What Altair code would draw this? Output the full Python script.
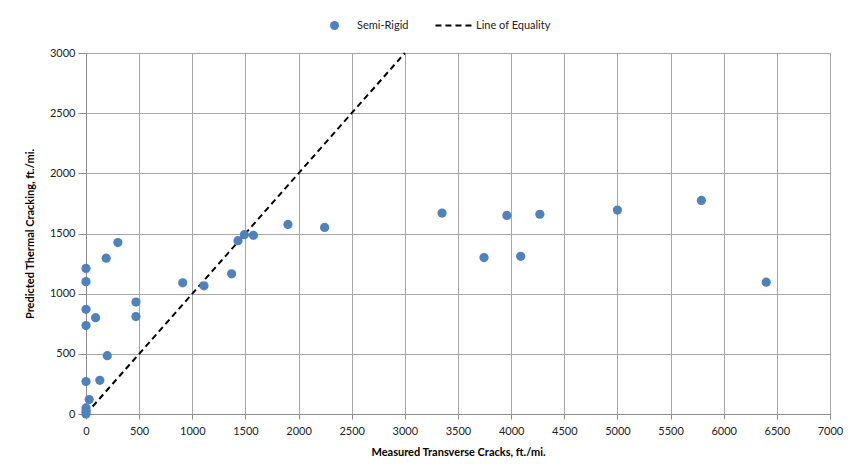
import altair as alt
import pandas as pd

measured = [0, 0, 0, 0, 90, 190, 300, 470, 470, 200, 130, 0, 30, 0, 0, 0,
            910, 1110, 1370, 1430, 1490, 1575, 1900, 2245,
            3350, 3745, 3960, 4090, 4270, 5000, 5790, 6400]
predicted = [1210, 1100, 870, 735, 800, 1295, 1425, 930, 810, 485, 280, 270, 120, 50, 20, 0,
             1090, 1065, 1165, 1440, 1490, 1485, 1575, 1550,
             1670, 1300, 1650, 1310, 1660, 1695, 1775, 1095]
eq_x = [0, 3000]
eq_y = [0, 3000]

pts = pd.DataFrame({"x": measured, "y": predicted, "s": "Semi-Rigid"})
eq = pd.DataFrame({"x": eq_x, "y": eq_y, "s": "Line of Equality"})

FONT = "Lato"
xs = alt.Scale(domain=[0, 7000], nice=False, zero=False)
ys = alt.Scale(domain=[0, 3000], nice=False, zero=False)

xax = alt.Axis(values=list(range(0, 7001, 500)), format="d", title="Measured Transverse Cracks, ft./mi.",
               grid=True, gridColor="#a6a6a6", tickColor="#8c8c8c", tickSize=5,
               domainColor="#8c8c8c", labelFont=FONT, labelFontSize=11, labelColor="#222",
               labelPadding=6, titleFont=FONT, titleFontSize=11, titleFontWeight="bold",
               titleColor="#000", titlePadding=10, labelFlush=False)
yax = alt.Axis(values=list(range(0, 3001, 500)), format="d", title="Predicted Thermal Cracking, ft./mi.",
               grid=True, gridColor="#a6a6a6", tickColor="#8c8c8c", tickSize=8,
               domainColor="#8c8c8c", labelFont=FONT, labelFontSize=11, labelColor="#222",
               labelPadding=3, titleFont=FONT, titleFontSize=11, titleFontWeight="bold",
               titleColor="#000", titlePadding=14, labelFlush=False)

points = alt.Chart(pts).mark_circle(size=85, opacity=1).encode(
    x=alt.X("x:Q", scale=xs, axis=xax),
    y=alt.Y("y:Q", scale=ys, axis=yax),
    color=alt.Color("s:N", scale=alt.Scale(domain=["Semi-Rigid"], range=["#4F81BD"]),
                    legend=alt.Legend(title=None, orient="none", legendX=243, legendY=-33,
                                      labelFont=FONT, labelFontSize=11, labelColor="#222",
                                      symbolType="circle", symbolSize=80, labelOffset=17)),
)

line = alt.Chart(eq).mark_line(color="black", strokeWidth=2).encode(
    x=alt.X("x:Q", scale=xs),
    y=alt.Y("y:Q", scale=ys),
    strokeDash=alt.StrokeDash("s:N", scale=alt.Scale(domain=["Line of Equality"], range=[[6, 4]]),
                              legend=alt.Legend(title=None, orient="none", legendX=348, legendY=-47,
                                                labelFont=FONT, labelFontSize=11, labelColor="#222",
                                                symbolType="stroke", symbolStrokeColor="black",
                                                symbolStrokeWidth=2, symbolSize=1300, labelOffset=3)),
)

chart = alt.layer(line, points).properties(
    width=744, height=361,
    autosize=alt.AutoSizeParams(type="none"),
    padding={"left": 78, "top": 45, "right": 14, "bottom": 50},
).configure_view(stroke="#a6a6a6").configure(background="white")

chart.save("out.html", embed_options={"renderer": "svg", "actions": False})
